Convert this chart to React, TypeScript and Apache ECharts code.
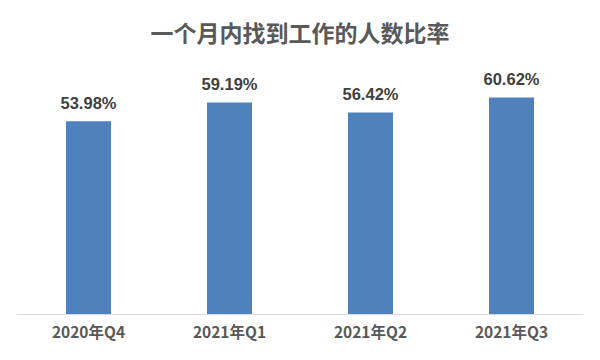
import React, { useEffect, useRef } from "react";
import * as echarts from "echarts";

const categories = ["2020年Q4", "2021年Q1", "2021年Q2", "2021年Q3"];
const values = [53.98, 59.19, 56.42, 60.62];

export default function App() {
  const ref = useRef<HTMLDivElement>(null);
  useEffect(() => {
    const chart = echarts.init(ref.current!, null, { renderer: "svg" });
    chart.setOption({
      animation: false,
      backgroundColor: "#ffffff",
      title: {
        text: "一个月内找到工作的人数比率",
        left: "center",
        top: 15,
        textStyle: {
          fontFamily: "Noto Sans CJK SC",
          fontSize: 23,
          fontWeight: "bold",
          color: "#595959",
        },
      },
      grid: { left: 18, right: 18, top: 64, bottom: 46, containLabel: false },
      xAxis: {
        type: "category",
        data: categories,
        axisLine: { lineStyle: { color: "#d9d9d9", width: 1 } },
        axisTick: { show: false },
        axisLabel: {
          color: "#595959",
          fontSize: 15.5,
          fontWeight: "bold",
          fontFamily: "Noto Sans CJK SC",
          margin: 9,
        },
      },
      yAxis: {
        type: "value",
        min: 0,
        max: 70,
        show: false,
        splitLine: { show: false },
      },
      series: [
        {
          type: "bar",
          data: values,
          barWidth: 45,
          itemStyle: { color: "#4f81bd" },
          label: {
            show: true,
            position: "top",
            distance: 10,
            formatter: (p: any) => p.value.toFixed(2) + "%",
            color: "#404040",
            fontSize: 16.5,
            fontWeight: "bold",
            fontFamily: "Liberation Sans",
          },
        },
      ],
    });
    return () => chart.dispose();
  }, []);
  return (
    <div
      ref={ref}
      style={{ position: "absolute", left: 0, top: 0, width: 600, height: 360 }}
    />
  );
}
